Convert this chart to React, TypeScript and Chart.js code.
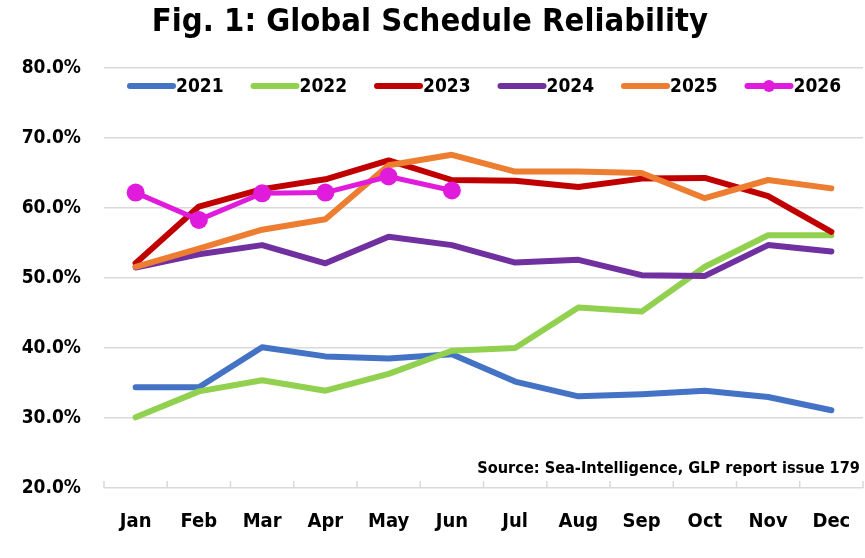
import React, { useEffect, useRef } from "react";
import { Chart, registerables, Plugin } from "chart.js";

Chart.register(...registerables);

const FONT = "'Liberation Sans Narrow', 'DejaVu Sans Condensed', 'Liberation Sans', sans-serif";

const months = ["Jan", "Feb", "Mar", "Apr", "May", "Jun", "Jul", "Aug", "Sep", "Oct", "Nov", "Dec"];
const years = ["2021", "2022", "2023", "2024", "2025", "2026"];
const s2021 = [34.4, 34.4, 40.1, 38.8, 38.5, 39.1, 35.2, 33.1, 33.4, 33.9, 33.0, 31.1];
const s2022 = [30.1, 33.8, 35.4, 33.9, 36.3, 39.6, 40.0, 45.8, 45.2, 51.6, 56.1, 56.1];
const s2023 = [52.1, 60.2, 62.7, 64.1, 66.8, 64.0, 63.9, 63.0, 64.2, 64.3, 61.7, 56.6];
const s2024 = [51.5, 53.4, 54.7, 52.1, 55.9, 54.7, 52.2, 52.6, 50.4, 50.3, 54.7, 53.8];
const s2025 = [51.6, 54.2, 56.9, 58.4, 66.1, 67.6, 65.2, 65.2, 65.0, 61.4, 64.0, 62.8];
const s2026 = [62.2, 58.3, 62.1, 62.2, 64.5, 62.5];
const colors = ["#4472C4", "#92D050", "#C00000", "#7030A0", "#ED7D31", "#E11BDB"];

const title = "Fig. 1: Global Schedule Reliability";
const source = "Source: Sea-Intelligence, GLP report issue 179";

// title, legend, source note and the small category ticks on the x axis
const decorations: Plugin<"line"> = {
  id: "decorations",
  beforeDatasetsDraw(chart) {
    const { ctx, chartArea, scales } = chart;
    const x = scales.x;
    ctx.save();
    ctx.strokeStyle = "#d9d9d9";
    ctx.lineWidth = 1.5;
    for (let i = 0; i <= months.length; i++) {
      const px = x.getPixelForValue(i - 0.5);
      ctx.beginPath();
      ctx.moveTo(px, chartArea.bottom);
      ctx.lineTo(px, chartArea.bottom - 7);
      ctx.stroke();
    }
    ctx.restore();
  },
  afterDraw(chart) {
    const { ctx } = chart;
    ctx.save();
    ctx.fillStyle = "#000";
    ctx.textBaseline = "middle";

    ctx.font = `bold 32.5px ${FONT}`;
    ctx.textAlign = "center";
    ctx.fillText(title, 430, 23);

    ctx.font = `bold 16.2px ${FONT}`;
    ctx.textAlign = "right";
    ctx.fillText(source, 860, 469);

    ctx.font = `bold 19px ${FONT}`;
    ctx.textAlign = "left";
    years.forEach((y, i) => {
      const x0 = 130 + i * 123.5;
      const ly = 86;
      ctx.strokeStyle = colors[i];
      ctx.lineWidth = 6;
      ctx.lineCap = "round";
      ctx.beginPath();
      ctx.moveTo(x0, ly);
      ctx.lineTo(x0 + 43, ly);
      ctx.stroke();
      if (i === 5) {
        ctx.fillStyle = colors[i];
        ctx.beginPath();
        ctx.arc(x0 + 21.5, ly, 6, 0, Math.PI * 2);
        ctx.fill();
      }
      ctx.fillStyle = "#000";
      ctx.fillText(y, x0 + 46, ly + 1);
    });
    ctx.restore();
  },
};

const App: React.FC = () => {
  const canvasRef = useRef<HTMLCanvasElement | null>(null);

  useEffect(() => {
    if (!canvasRef.current) return;
    const series = [s2021, s2022, s2023, s2024, s2025, s2026];
    const chart = new Chart(canvasRef.current, {
      type: "line",
      data: {
        labels: months,
        datasets: series.map((data, i) => ({
          label: years[i],
          data,
          borderColor: colors[i],
          backgroundColor: colors[i],
          borderWidth: i === 5 ? 5 : 6,
          borderCapStyle: "round" as const,
          borderJoinStyle: "round" as const,
          tension: 0,
          pointRadius: i === 5 ? 9 : 0,
          pointHoverRadius: i === 5 ? 9 : 0,
          pointBorderWidth: 0,
          pointBackgroundColor: colors[i],
          order: series.length - i,
        })),
      },
      options: {
        animation: false,
        responsive: true,
        maintainAspectRatio: false,
        layout: { padding: { top: 68, right: 3, bottom: 0, left: 0 } },
        plugins: {
          legend: { display: false },
          title: { display: false },
          tooltip: { enabled: false },
        },
        scales: {
          x: {
            offset: true,
            grid: { display: false },
            border: { display: false },
            ticks: {
              color: "#000",
              padding: 14,
              maxRotation: 0,
              font: { family: FONT, size: 20, weight: "bold" },
            },
            afterFit: (scale) => {
              scale.height = 70;
            },
          },
          y: {
            min: 20,
            max: 80,
            grid: { color: "#d9d9d9", lineWidth: 1.5, drawTicks: false },
            border: { display: false },
            ticks: {
              stepSize: 10,
              color: "#000",
              padding: 23,
              font: { family: FONT, size: 19, weight: "bold" },
              callback: (v) => `${Number(v).toFixed(1)}%`,
            },
            afterFit: (scale) => {
              scale.width = 104;
            },
          },
        },
      },
      plugins: [decorations],
    });
    return () => chart.destroy();
  }, []);

  return (
    <div
      style={{
        position: "fixed",
        left: 0,
        top: 0,
        width: 865,
        height: 558,
        overflow: "hidden",
        background: "#fff",
      }}
    >
      <div style={{ position: "relative", width: 872, height: 558 }}>
        <canvas ref={canvasRef}></canvas>
      </div>
    </div>
  );
};

export default App;
